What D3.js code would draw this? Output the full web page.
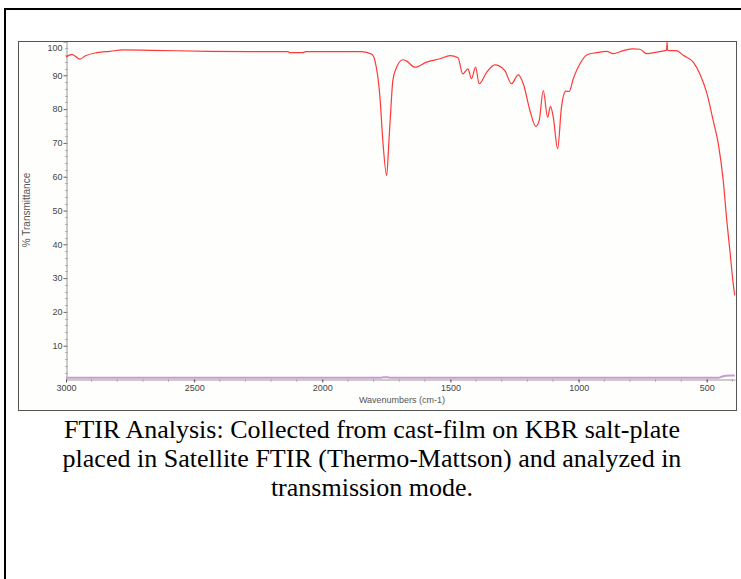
<!DOCTYPE html>
<html lang="en">
<head>
    <meta charset="utf-8">
    <title>FTIR Analysis</title>
    <script src="https://cdn.jsdelivr.net/npm/d3@7"></script>
    <style>
        body { margin: 0; background: #fff; }
        .tick text { font-family: "Liberation Sans", Arial, sans-serif; font-size: 9px; fill: #444; }
        .axis-title { font-family: "Liberation Sans", Arial, sans-serif; font-size: 9px; fill: #555; }
        .caption { font-family: "Liberation Serif", "Times New Roman", serif; font-size: 26px; fill: #000; }
    </style>
</head>
<body>
<div id="chart"></div>
<script>
    // Spectrum (cm-1, % transmittance)
    var wavenumbers = [3000, 2977, 2945, 2926, 2879, 2828, 2778, 2672, 2446, 2282, 2134, 2126, 2076, 2064,
        1846, 1807, 1795, 1775, 1764, 1749, 1740, 1730, 1725, 1710, 1686, 1671, 1639, 1593, 1541, 1502,
        1471, 1452, 1432, 1418, 1402, 1388, 1359, 1327, 1288, 1262, 1236, 1216, 1190, 1167, 1154, 1138,
        1121, 1110, 1099, 1082, 1067, 1050, 1037, 1021, 995, 967, 930, 891, 865, 826, 787, 761, 735, 709,
        683, 664, 657, 655, 653, 644, 618, 592, 553, 527, 501, 475, 455, 436, 422, 410, 397, 391];
    var transmittance = [95.4, 96.2, 94.8, 95.7, 96.7, 97.1, 97.5, 97.4, 97.1, 97.0, 97.0, 96.7, 96.7, 97.0,
        97.0, 96.2, 94.4, 83.4, 70.7, 60.4, 70.7, 83.4, 88.4, 92.4, 94.6, 94.2, 92.4, 93.9, 94.9, 95.8,
        95.2, 90.4, 91.9, 89.0, 92.4, 87.5, 90.9, 93.1, 91.4, 87.5, 90.1, 87.5, 79.6, 74.9, 76.6, 85.5,
        77.6, 80.8, 77.6, 68.3, 80.6, 85.3, 85.2, 89.0, 93.4, 96.1, 96.7, 97.1, 96.4, 97.3, 97.8, 97.7, 96.4, 96.7,
        97.0, 97.3, 97.4, 99.9, 97.4, 97.3, 97.3, 95.9, 93.9, 90.4, 85.0, 76.6, 69.7, 58.9, 47.0, 38.2, 28.3, 24.9];

    // Second (background) trace lying near zero
    var bgWavenumbers = [3000, 1770, 1762, 1745, 1738, 455, 440, 410, 391];
    var bgTransmittance = [0.5, 0.5, 0.7, 0.7, 0.5, 0.5, 0.9, 1.2, 1.2];

    var xTicks = [3000, 2500, 2000, 1500, 1000, 500];
    var yTicks = [10, 20, 30, 40, 50, 60, 70, 80, 90, 100];
    var captionLines = [
        'FTIR Analysis: Collected from cast-film on KBR salt-plate',
        'placed in Satellite FTIR (Thermo-Mattson) and analyzed in',
        'transmission mode.'
    ];

    var width = 741,
        height = 579;

    var svg = d3.select('#chart').append('svg')
        .attr('width', width)
        .attr('height', height);

    // Table cell borders
    svg.append('line').attr('x1', 4).attr('x2', width).attr('y1', 9).attr('y2', 9)
        .attr('stroke', '#000').attr('stroke-width', 2);
    svg.append('line').attr('x1', 5).attr('x2', 5).attr('y1', 8).attr('y2', height)
        .attr('stroke', '#000').attr('stroke-width', 2);

    // Picture frame
    svg.append('rect')
        .attr('x', 18.5).attr('y', 41.5)
        .attr('width', 718).attr('height', 369)
        .attr('fill', '#fefefd')
        .attr('stroke', '#555');

    var x = d3.scaleLinear().domain([3000, 390]).range([66, 735]);
    var y = d3.scaleLinear().domain([0, 100]).range([379.5, 41.5]);

    // Minor ticks
    svg.append('g').selectAll('line')
        .data(d3.range(2900, 390, -100))
        .enter().append('line')
        .attr('x1', function(d) { return x(d); })
        .attr('x2', function(d) { return x(d); })
        .attr('y1', 379.5).attr('y2', 381.5)
        .attr('stroke', '#999');

    svg.append('g').selectAll('line')
        .data(d3.range(2, 100, 2))
        .enter().append('line')
        .attr('x1', 65).attr('x2', 68)
        .attr('y1', function(d) { return Math.round(y(d)) + 0.5; })
        .attr('y2', function(d) { return Math.round(y(d)) + 0.5; })
        .attr('stroke', '#bbb');

    // Axes
    var xAxis = svg.append('g')
        .attr('transform', 'translate(0,379.5)')
        .call(d3.axisBottom(x).tickValues(xTicks).tickFormat(d3.format('d'))
            .tickSize(3).tickPadding(2).tickSizeOuter(0));
    xAxis.select('.domain').attr('stroke', '#999');
    xAxis.selectAll('.tick line').attr('stroke', '#555');

    var yAxis = svg.append('g')
        .attr('transform', 'translate(66.5,0)')
        .call(d3.axisLeft(y).tickValues(yTicks).tickFormat(d3.format('d'))
            .tickSize(3).tickPadding(1).tickSizeOuter(0));
    yAxis.select('.domain').attr('stroke', '#999');
    yAxis.selectAll('.tick line').attr('stroke', '#666');
    yAxis.selectAll('.tick')
        .filter(function(d) { return d === 100; })
        .selectAll('text').attr('dy', '1em');

    svg.append('text')
        .attr('class', 'axis-title')
        .attr('x', 402).attr('y', 403)
        .attr('text-anchor', 'middle')
        .text('Wavenumbers (cm-1)');

    svg.append('text')
        .attr('class', 'axis-title')
        .style('font-size', '10px')
        .attr('transform', 'translate(30,210) rotate(-90)')
        .attr('text-anchor', 'middle')
        .text('% Transmittance');

    // Traces
    var line = d3.line()
        .x(function(d) { return x(d[0]); })
        .y(function(d) { return y(d[1]); })
        .curve(d3.curveMonotoneX);

    svg.append('path')
        .datum(d3.zip(bgWavenumbers, bgTransmittance))
        .attr('fill', 'none')
        .attr('stroke', '#c89ad0')
        .attr('stroke-width', 2)
        .attr('d', line);

    svg.append('path')
        .datum(d3.zip(wavenumbers, transmittance))
        .attr('fill', 'none')
        .attr('stroke', '#ff3838')
        .attr('stroke-width', 1.2)
        .attr('d', line);

    // Caption
    svg.append('g').selectAll('text')
        .data(captionLines)
        .enter().append('text')
        .attr('class', 'caption')
        .attr('x', 372)
        .attr('y', function(d, i) { return 438 + i * 29; })
        .attr('text-anchor', 'middle')
        .text(function(d) { return d; });
</script>
</body>
</html>
